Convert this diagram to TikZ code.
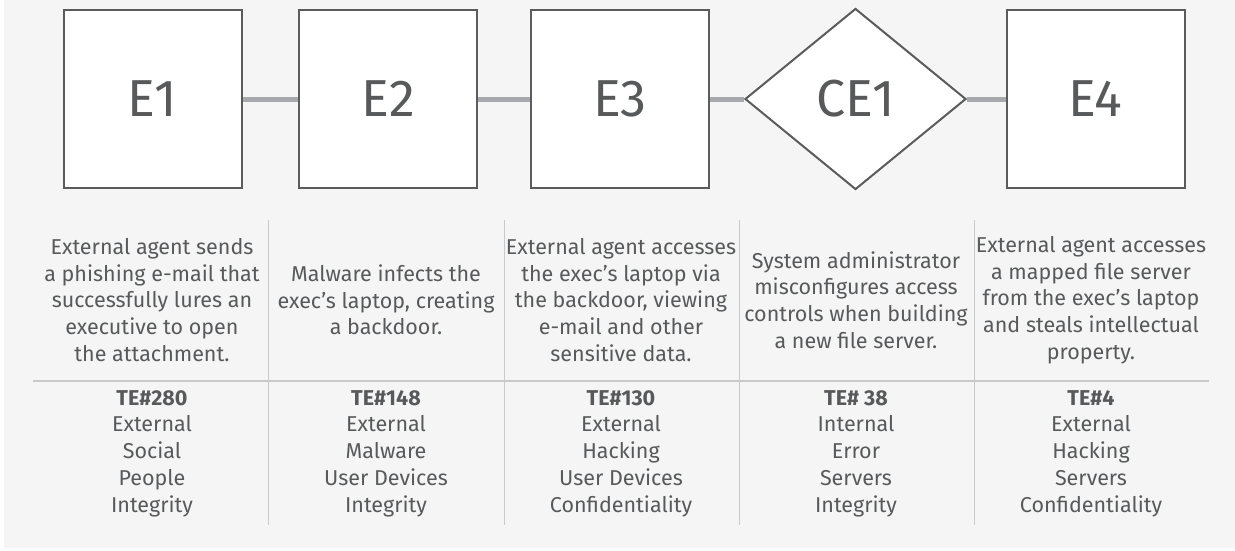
\documentclass[tikz,border=0pt]{standalone}
\usepackage{fontspec}
\setmainfont{Fira Sans}
\usepackage{tikz}
\usetikzlibrary{positioning, shapes.geometric}

\definecolor{dbir_bg}{HTML}{F5F5F5}
\definecolor{dbir_ink}{HTML}{58595B}
\definecolor{dbir_edge}{HTML}{5B5B5B}
\definecolor{dbir_link}{HTML}{A7A9AC}
\definecolor{dbir_rule}{HTML}{C9C9C9}

\begin{document}
\begin{tikzpicture}[x=1pt, y=-1pt, text=dbir_ink,
    evt/.style={draw=dbir_edge, line width=2pt, fill=white, inner sep=0pt,
                minimum width=178pt, minimum height=178pt,
                font=\fontsize{52}{60}\selectfont},
    cond/.style={evt, diamond, minimum width=221pt, minimum height=181pt},
    link/.style={draw=dbir_link, line width=5pt},
    rule/.style={draw=dbir_rule, line width=1.2pt},
    desc/.style={align=center, inner sep=0pt,
                 font=\fontsize{21.5}{26.7}\selectfont},
    tag/.style={desc}]
  % page
  \path[fill=white] (0,0) rectangle (1235,550);
  \path[fill=dbir_bg] (4,0) rectangle (1235,548);

  % chain of events
  \node[evt] (e1) at (152.5,99) {E1};
  \node[evt] (e2) at (388,99) {E2};
  \node[evt] (e3) at (620,99) {E3};
  \node[cond] (ce1) at (855.5,99) {CE1};
  \node[evt] (e4) at (1095.5,99) {E4};
  \draw[link] (e1) -- (e2);
  \draw[link] (e2) -- (e3);
  \draw[link] (e3) -- (ce1);
  \draw[link] (ce1) -- (e4);

  % table rules
  \draw[rule] (33,381) -- (1209,381);
  \foreach \x in {268,504,739,974}
    \draw[rule, line width=1pt] (\x,220) -- (\x,525);

  % what happened
  \node[desc] (d1) at (152,300) {External agent sends\\a phishing e-mail that\\successfully lures an\\executive to open\\the attachment.};
  \node[desc] (d2) at (386,300) {Malware infects the\\exec’s laptop, creating\\a backdoor.};
  \node[desc] (d3) at (621,300) {External agent accesses\\the exec’s laptop via\\the backdoor, viewing\\e-mail and other\\sensitive data.};
  \node[desc] (d4) at (856,300) {System administrator\\misconfigures access\\controls when building\\a new file server.};
  \node[desc] (d5) at (1091,300) {External agent accesses\\a mapped file server\\from the exec’s laptop\\and steals intellectual\\property.};

  % threat events
  \node[tag] (t1) at (152,453.5) {\textbf{TE\#280}\\External\\Social\\People\\Integrity};
  \node[tag] (t2) at (386,453.5) {\textbf{TE\#148}\\External\\Malware\\User Devices\\Integrity};
  \node[tag] (t3) at (621,453.5) {\textbf{TE\#130}\\External\\Hacking\\User Devices\\Confidentiality};
  \node[tag] (t4) at (856,453.5) {\textbf{TE\# 38}\\Internal\\Error\\Servers\\Integrity};
  \node[tag] (t5) at (1091,453.5) {\textbf{TE\#4}\\External\\Hacking\\Servers\\Confidentiality};
\end{tikzpicture}
\end{document}
